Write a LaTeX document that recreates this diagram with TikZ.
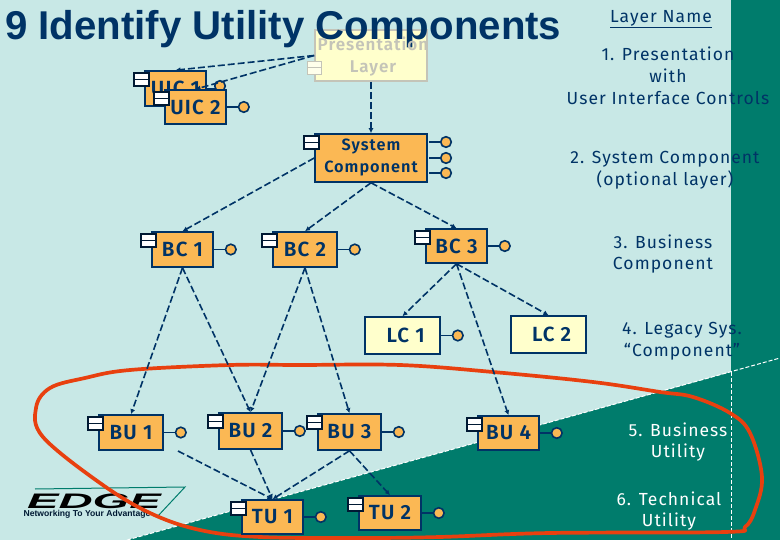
\documentclass[tikz,border=0pt]{standalone}
\usepackage{fontspec}
\setmainfont{Liberation Sans}
\newfontfamily\lblfont[LetterSpace=6]{Fira Sans}
\newfontfamily\boxfont[LetterSpace=6]{Fira Sans SemiBold}
\usetikzlibrary{arrows.meta}
\definecolor{bgc}{HTML}{C8E8E6}
\definecolor{tealc}{HTML}{007C6C}
\definecolor{orc}{HTML}{FBB854}
\definecolor{navc}{HTML}{003366}
\definecolor{crc}{HTML}{FFFFCC}
\definecolor{redc}{HTML}{E8400F}
\definecolor{fadec}{HTML}{C4C4B8}
\tikzset{
 comp/.style={draw=navc,line width=1.6pt,fill=orc,inner sep=0pt,text=navc,align=center,font=\boxfont\fontsize{20.5}{22}\selectfont},
 legacy/.style={comp,fill=crc},
 faded/.style={draw=fadec,line width=1.6pt,fill=crc,inner sep=0pt},
 lbl/.style={text=navc,align=center,font=\lblfont\fontsize{17.5}{21.8}\selectfont},
 lblw/.style={lbl,text=white},
 dep/.style={draw=navc,line width=1.6pt,dash pattern=on 7pt off 3pt,-{Latex[length=5pt,width=5pt]}},
 stick/.style={draw=navc,line width=1.6pt},
 ball/.style={draw=navc,line width=1.6pt,fill=orc},
 tabb/.style={draw=navc!50!black,line width=1.5pt,fill=white},
 edgeln/.style={draw=white,line width=1pt,dash pattern=on 4pt off 2pt},
}
\newcommand{\comptab}[1]{%
 \draw[tabb] ([shift={(-10,3)}]#1.north west) rectangle ([shift={(5,9.5)}]#1.north west);
 \draw[tabb] ([shift={(-10,9.5)}]#1.north west) rectangle ([shift={(5,16)}]#1.north west);}
\newcommand{\lolli}[1]{%
 \draw[stick] (#1.east) -- ++(12,0);
 \draw[ball] ([xshift=17pt]#1.east) circle (5.3);}
\begin{document}
\begin{tikzpicture}[x=1pt,y=-1pt]
\useasboundingbox (0,0) rectangle (780,540);
\fill[bgc] (0,0) rectangle (780,540);
\fill[tealc] (127,540) -- (731,372) -- (731,0) -- (780,0) -- (780,540) -- cycle;
\draw[edgeln] (127,540) -- (780,358);
\draw[edgeln] (731,372) -- (731,540);
% faded presentation box lies under the title
\node[faded,minimum width=112pt,minimum height=51pt] (P) at (371,55.5) {};
\draw[draw=fadec,line width=1.3pt,fill=crc!40!white] ([shift={(-7,32)}]P.north west) rectangle ([shift={(7,38.5)}]P.north west);
\draw[draw=fadec,line width=1.3pt,fill=crc!40!white] ([shift={(-7,38.5)}]P.north west) rectangle ([shift={(7,45)}]P.north west);
\node[font=\bfseries\fontsize{40.2}{46}\selectfont,text=navc,anchor=west,inner sep=0pt] (T) at (5,29) {9 Identify Utility Components};
\node[text=fadec,align=center,font=\boxfont\fontsize{17}{22}\selectfont] (Ptxt) at (373,57) {Presentation\\Layer};
% logo
\coordinate (L1) at (185,487);
\coordinate (L2) at (157,517);
\coordinate (L3) at (35,489);
\draw[tealc,line width=1pt] (L3) -- (L1) -- (L2);
\node[font=\bfseries\itshape\fontsize{21}{21}\selectfont,text=black,inner sep=0pt,xscale=2.25] (E) at (94,501) {EDGE};
\node[font=\bfseries\fontsize{8.6}{10}\selectfont,text=navc!50!black,inner sep=0pt] (N) at (87,514) {Networking To Your Advantage};
% encircling curve
\draw[redc,line width=3.7pt,line join=round] plot[smooth cycle,tension=0.6] coordinates {(130,370) (85,378) (50,388) (36,408) (43,437) (100,483) (150,513) (200,530) (260,537) (360,538) (440,537) (550,533) (725,532) (745,527) (755,510) (762,477) (750,433) (730,413) (693,397) (660,392) (593,382) (493,372) (400,365) (300,365) (230,365)};
% components
\node[comp,minimum width=61pt,minimum height=35pt] (U1) at (175.5,88.5) {UIC 1};
\comptab{U1}
\draw[stick] (U1.east) -- ++(9,0);
\draw[ball] (220,86) circle (5.3);
\node[comp,minimum width=61pt,minimum height=34pt] (U2) at (195.5,107) {UIC 2};
\comptab{U2}
\lolli{U2}
\node[comp,minimum width=112pt,minimum height=48pt,font=\boxfont\fontsize{16.3}{22}\selectfont] (S) at (371,158) {\raisebox{-1.5pt}{System}\\\raisebox{-1.5pt}{Component}};
\comptab{S}
\foreach \yy in {142,158,173}{
 \draw[stick] (429,\yy) -- (441,\yy);
 \draw[ball] (446,\yy) circle (5.3);
}
\node[comp,minimum width=61pt,minimum height=35pt] (BC1) at (182.5,249.5) {BC 1};
\comptab{BC1}\lolli{BC1}
\node[comp,minimum width=64pt,minimum height=35pt] (BC2) at (305,249.5) {BC 2};
\comptab{BC2}\lolli{BC2}
\node[comp,minimum width=61pt,minimum height=34pt] (BC3) at (456.5,246) {BC 3};
\comptab{BC3}\lolli{BC3}
\node[legacy,minimum width=75pt,minimum height=37pt] (LC1) at (402.5,335.5) {\ LC 1};
\lolli{LC1}
\node[legacy,minimum width=75pt,minimum height=37pt] (LC2) at (548.5,334.5) {\ LC 2};
\node[comp,minimum width=64pt,minimum height=35pt] (BU1) at (131,432.5) {BU 1};
\comptab{BU1}\lolli{BU1}
\node[comp,minimum width=63pt,minimum height=36pt] (BU2) at (250.5,431) {BU 2};
\comptab{BU2}\lolli{BU2}
\node[comp,minimum width=63pt,minimum height=36pt] (BU3) at (349.5,432) {BU 3};
\comptab{BU3}\lolli{BU3}
\node[comp,minimum width=61pt,minimum height=34pt] (BU4) at (508.5,433) {BU 4};
\comptab{BU4}\lolli{BU4}
\node[comp,minimum width=61pt,minimum height=34pt] (TU1) at (272.5,517) {TU 1};
\comptab{TU1}\lolli{TU1}
\node[comp,minimum width=62pt,minimum height=34pt] (TU2) at (390,513) {TU 2};
\comptab{TU2}\lolli{TU2}
% connectors
\coordinate (BU1s) at (178,451);
\draw[dep] (P.west) -- (U1.north);
\draw[dep] (P.west) -- (U2.north);
\draw[dep] (P.south) -- (S.north);
\draw[dep] (S.west) -- (BC1.north);
\draw[dep] (S.south) -- (BC2.north);
\draw[dep] (S.south) -- (BC3.north);
\draw[dep] (BC1.south) -- (BU1.north);
\draw[dep] (BC1.south) -- (BU2.north);
\draw[dep] (BC2.south) -- (BU2.north);
\draw[dep] (BC2.south) -- (BU3.north);
\draw[dep] (BC3.south) -- (LC1.north);
\draw[dep] (BC3.south) -- (BU4.north);
\draw[dep] (BC3.south) -- (LC2.north);
\draw[dep] (BU1s) -- (TU1.north);
\draw[dep] (BU2.south) -- (TU1.north);
\draw[dep] (BU3.south) -- (TU1.north);
\draw[dep] (BU3.south) -- (TU2.north);
% layer labels
\node[lbl] (H) at (661,19) {\underline{Layer Name}};
\node[lbl] (A) at (668,76) {1. Presentation\\with\\User Interface Controls};
\node[lbl] (B) at (665,170) {2. System Component\\(optional layer)};
\node[lbl] (C) at (663,254) {3. Business\\Component};
\node[lbl] (D) at (682,341) {4. Legacy Sys.\\“Component”};
\node[lblw] (F) at (678,442) {5. Business\\Utility};
\node[lblw] (G) at (669,511) {6. Technical\\Utility};
\end{tikzpicture}
\end{document}
